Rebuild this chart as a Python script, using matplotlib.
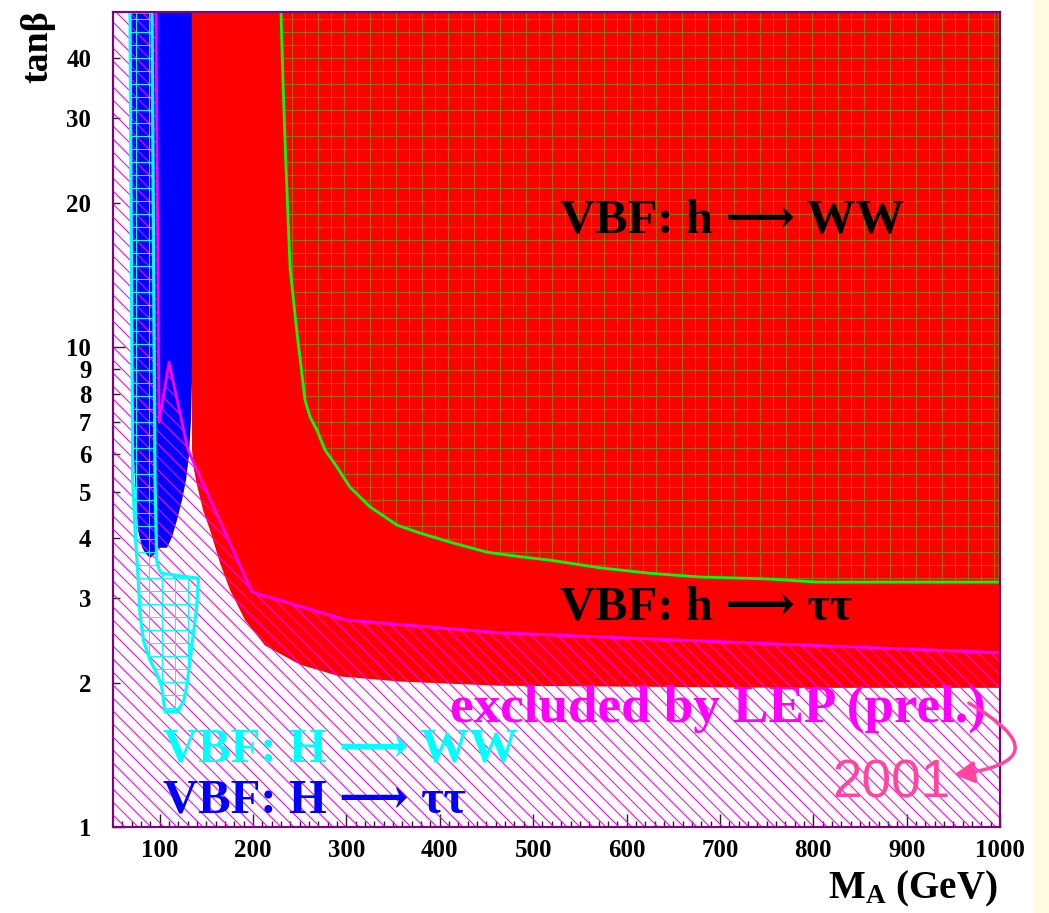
import matplotlib
matplotlib.use('Agg')
import matplotlib.pyplot as plt
from matplotlib.patches import Rectangle, FancyArrowPatch

# ---------------- data (M_A in GeV, tan(beta)) ----------------
x_range = [50, 1000]
y_range = [1, 50]

x_major = [100, 200, 300, 400, 500, 600, 700, 800, 900, 1000]
x_minor = [m for m in range(60, 1000, 10) if m % 100 != 0]
y_major = [1, 10]
y_minor = [2, 3, 4, 5, 6, 7, 8, 9, 20, 30, 40]

# LEP (prel.) excluded region boundary
lep_ma = [96.0, 99.3, 110.0, 130.3, 198.9, 300.5, 464.5, 732.0, 1000.0]
lep_tb = [50.0, 6.98, 9.31, 6.11, 3.09, 2.70, 2.54, 2.42, 2.31]

# VBF: h -> tautau reach (red)
htt_ma = [134.6, 134.6, 136.8, 140.0, 146.4, 153.9, 164.6, 175.3, 191.4,
          212.8, 250.3, 293.1, 357.4, 464.5, 785.8, 1000.0]
htt_tb = [50.0, 6.11, 5.55, 5.16, 4.58, 4.16, 3.55, 3.12, 2.70,
          2.39, 2.18, 2.06, 2.01, 1.97, 1.95, 1.95]

# VBF: h -> WW reach (green line, grid)
hww_ma = [229.9, 232.1, 235.3, 239.6, 247.1, 253.5, 255.6, 261.0, 268.5,
          277.1, 289.9, 303.8, 325.3, 354.2, 378.8, 414.1, 450.6, 485.9,
          518.0, 571.6, 625.1, 678.7, 750.4, 804.0, 1000.0]
hww_tb = [50.0, 35.6, 23.8, 14.7, 10.7, 8.43, 7.77, 7.16, 6.72,
          6.11, 5.63, 5.11, 4.65, 4.26, 4.10, 3.91, 3.74, 3.66,
          3.60, 3.47, 3.38, 3.32, 3.29, 3.24, 3.24]

# VBF: H -> tautau reach (blue)
Htt_ma = [68.2, 69.3, 71.4, 73.6, 76.8, 81.1, 84.3, 89.6, 93.9, 97.1,
          100.3, 107.8, 113.2, 118.5, 123.9, 128.2, 131.4, 133.5, 134.6, 134.6]
Htt_tb = [50.0, 12.55, 6.41, 5.29, 4.16, 3.83, 3.73, 3.64, 3.69, 3.78,
          3.82, 3.82, 4.02, 4.36, 4.80, 5.29, 5.96, 7.05, 8.55, 50.0]

# VBF: H -> WW reach (cyan outline, grid)
HWW_ma = [68.2, 71.1, 73.6, 75.4, 77.1, 78.9, 82.5, 89.6, 96.8, 102.2, 105.7,
          119.9, 121.8, 125.3, 128.9, 134.3, 139.6, 141.4, 141.4, 102.2, 99.6,
          96.8, 95.0, 91.8]
HWW_tb = [50.0, 5.29, 4.16, 3.66, 3.27, 2.79, 2.45, 2.23, 2.09, 1.96, 1.74,
          1.74, 1.78, 1.82, 1.96, 2.37, 2.87, 3.27, 3.30, 3.38, 3.43,
          3.60, 5.29, 50.0]

# ---------------- style ----------------
DPI = 78
SERIF = ['Liberation Serif', 'STIXGeneral', 'DejaVu Serif', 'DejaVu Sans']
plt.rcParams['font.family'] = SERIF
plt.rcParams['font.weight'] = 'bold'
plt.rcParams['mathtext.fontset'] = 'custom'
plt.rcParams['mathtext.rm'] = 'Liberation Serif:bold'
plt.rcParams['mathtext.bf'] = 'Liberation Serif:bold'
plt.rcParams['mathtext.it'] = 'Liberation Serif:bold:italic'
plt.rcParams['hatch.linewidth'] = 1.0

RED = '#ff0000'
BLUE = '#0000ff'
CYAN = '#00ffff'
MAGENTA = '#ff00ff'
GREEN = '#00ff00'
OLIVE = '#a06a10'
PURPLE = '#800080'
ARROW = '\u27f6'

fig = plt.figure(figsize=(1049 / DPI, 913 / DPI), dpi=DPI)
fig.patches.append(Rectangle((1034 / 1049, 0), 15 / 1049, 1, transform=fig.transFigure,
                             facecolor='#fffbe3', edgecolor='none', zorder=0))
ax = fig.add_axes([113 / 1049, 86 / 913, 887 / 1049, 815 / 913])
ax.set_yscale('log')
ax.set_xlim(*x_range)
ax.set_ylim(*y_range)
ax.set_facecolor('white')

X0, X1 = x_range
Y0, Y1 = y_range

# red: h -> tautau
ax.fill(htt_ma + [X1], htt_tb + [Y1], facecolor=RED, edgecolor='none', linewidth=0, zorder=1)
# grid: h -> WW
ax.fill(hww_ma + [X1], hww_tb + [Y1], facecolor='none', edgecolor=OLIVE, hatch='+',
        linewidth=0, zorder=2)
# blue: H -> tautau
ax.fill(Htt_ma, Htt_tb, facecolor=BLUE, edgecolor='none', linewidth=0, zorder=2)
# LEP hatched
ax.fill([X0] + lep_ma + [X1, X0], [Y1] + lep_tb + [Y0, Y0], facecolor='none',
        edgecolor=MAGENTA, hatch='\\\\', linewidth=0, zorder=3)
# cyan grid: H -> WW
ax.fill(HWW_ma, HWW_tb, facecolor='none', edgecolor=CYAN, hatch='+', linewidth=0, zorder=4)

# boundary lines
ax.plot(hww_ma + [X1], hww_tb + [Y1], color=GREEN, lw=2.6, zorder=5, solid_joinstyle='round')
ax.plot(lep_ma, lep_tb, color=MAGENTA, lw=2.6, zorder=5, solid_joinstyle='round')
ax.plot(HWW_ma + [HWW_ma[0]], HWW_tb + [HWW_tb[0]], color=CYAN, lw=3.0, zorder=6,
        solid_joinstyle='round')

# axes, ticks
for s in ax.spines.values():
    s.set_color(PURPLE)
    s.set_linewidth(2)
    s.set_zorder(10)

ax.set_xticks(x_major)
ax.set_xticklabels([str(v) for v in x_major])
ax.set_xticks(x_minor, minor=True)
ax.set_yticks(y_major)
ax.set_yticklabels([str(v) for v in y_major])
ax.set_yticks(y_minor, minor=True)
ax.set_yticklabels([str(v) for v in y_minor], minor=True)

ax.tick_params(axis='both', which='both', direction='in', color='#222222', width=1.3,
               top=False, right=False, labelsize=23)
ax.tick_params(axis='x', which='major', length=12, pad=11)
ax.tick_params(axis='x', which='minor', length=5.5, pad=11)
ax.tick_params(axis='y', which='major', length=11, pad=20)
ax.tick_params(axis='y', which='minor', length=6.5, pad=20)
for lab in ax.get_xticklabels() + ax.get_yticklabels() + ax.get_yticklabels(minor=True):
    lab.set_fontweight('bold')

# labels
big = 45
ax.text(0.504, 0.730, 'VBF: h ' + ARROW + ' WW', transform=ax.transAxes, fontsize=big,
        color='black', fontweight='bold', va='baseline', ha='left', zorder=8)
ax.text(0.504, 0.254, 'VBF: h ' + ARROW + ' \u03c4\u03c4', transform=ax.transAxes, fontsize=big,
        color='black', fontweight='bold', va='baseline', ha='left', zorder=8)
ax.text(0.380, 0.129, 'excluded by LEP (prel.)', transform=ax.transAxes, fontsize=49,
        color=MAGENTA, fontweight='bold', va='baseline', ha='left', zorder=8)
ax.text(0.0564, 0.0798, 'VBF: H ' + ARROW + ' WW', transform=ax.transAxes, fontsize=big,
        color=CYAN, fontweight='bold', va='baseline', ha='left', zorder=8)
ax.text(0.0564, 0.0184, 'VBF: H ' + ARROW + ' \u03c4\u03c4', transform=ax.transAxes, fontsize=big,
        color=BLUE, fontweight='bold', va='baseline', ha='left', zorder=8)

fig.text(38 / 1049, 1 - 47 / 913, 'tan\u03b2', rotation=90, fontsize=35, fontweight='bold',
         ha='center', va='center')
fig.text(998 / 1049, 1 - 898 / 913, r'M$_{\mathrm{A}}$ (GeV)', fontsize=36, fontweight='bold',
         ha='right', va='baseline')

# handwritten note
PINK = '#ff45a0'
fig.text(832 / 1049, 1 - 798 / 913, '2001', fontsize=49, color=PINK,
         family=['Liberation Sans', 'DejaVu Sans'], fontweight='normal',
         ha='left', va='baseline', zorder=12)
arr = FancyArrowPatch((967 / 1049, 1 - 702 / 913), (952 / 1049, 1 - 775 / 913),
                      transform=fig.transFigure, connectionstyle='arc3,rad=-1.5',
                      arrowstyle='-|>,head_length=0.55,head_width=0.3', mutation_scale=28,
                      color=PINK, lw=3.2, zorder=12)
fig.patches.append(arr)

fig.savefig('out.png', dpi=DPI)
